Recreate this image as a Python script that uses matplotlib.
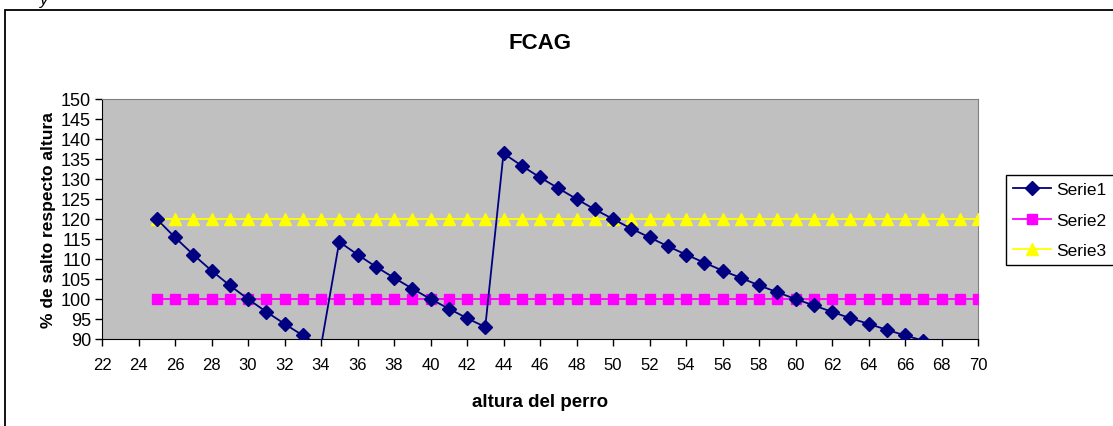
import matplotlib.pyplot as plt
from matplotlib.patches import Rectangle

plt.rcParams['font.family'] = ['Liberation Sans', 'DejaVu Sans']

# data
altura = list(range(25, 71))
serie1 = [120.0, 115.4, 111.1, 107.1, 103.4, 100.0, 96.8, 93.8, 90.9, 88.2,
          114.3, 111.1, 108.1, 105.3, 102.6, 100.0, 97.6, 95.2, 93.0,
          136.4, 133.3, 130.4, 127.7, 125.0, 122.4, 120.0, 117.6, 115.4, 113.2,
          111.1, 109.1, 107.1, 105.3, 103.4, 101.7, 100.0, 98.4, 96.8, 95.2,
          93.8, 92.3, 90.9, 89.6, 88.2, 87.0, 85.7]
serie2 = [100] * len(altura)
serie3 = [120] * len(altura)
xticks = list(range(22, 71, 2))
yticks = list(range(90, 151, 5))

W, H = 1113, 427
fig = plt.figure(figsize=(W / 100, H / 100), dpi=100)

# outer chart frame
fig.patches.append(Rectangle((5 / W, -0.1), 1.2, 1 - 11 / H + 0.1,
                             transform=fig.transFigure, fill=False,
                             edgecolor='black', linewidth=1.3))
fig.text(40 / W, 1.0, "y", style='italic', fontsize=12, va='center')

ax = fig.add_axes([102 / W, 1 - 340 / H, (978 - 102) / W, (340 - 100) / H])
ax.set_facecolor('#C0C0C0')

ax.plot(altura, serie1, color='#000080', marker='D', markersize=7,
        linewidth=1.3, label='Serie1', zorder=4)
ax.plot(altura, serie2, color='#FF00FF', marker='s', markersize=7,
        linewidth=1.3, label='Serie2', zorder=3)
ax.plot(altura, serie3, color='#FFFF00', marker='^', markersize=8.5,
        linewidth=1.3, label='Serie3', zorder=3)

ax.set_xlim(22, 70)
ax.set_ylim(90, 150)
ax.set_xticks(xticks)
ax.set_yticks(yticks)
ax.tick_params(direction='out', length=5, width=1, pad=3)
ax.tick_params(axis='y', labelsize=13)
ax.tick_params(axis='x', labelsize=12, pad=8)
for s in ['top', 'right']:
    ax.spines[s].set_color('#808080')
for s in ['left', 'bottom']:
    ax.spines[s].set_color('black')

ax.set_title("FCAG", fontsize=16, fontweight='bold', pad=37)
ax.set_xlabel("altura del perro", fontsize=13.5, fontweight='bold', labelpad=15)
ax.set_ylabel("% de salto respecto altura", fontsize=12.5, fontweight='bold', labelpad=3)

ax.legend(loc='center left', bbox_to_anchor=(1006 / W, 1 - 221 / H),
          bbox_transform=fig.transFigure, borderaxespad=0,
          fancybox=False, edgecolor='black',
          fontsize=12.5, handlelength=2.2, borderpad=0.4, labelspacing=0.9,
          handletextpad=0.3, framealpha=1)

fig.savefig("out.png", dpi=100)
